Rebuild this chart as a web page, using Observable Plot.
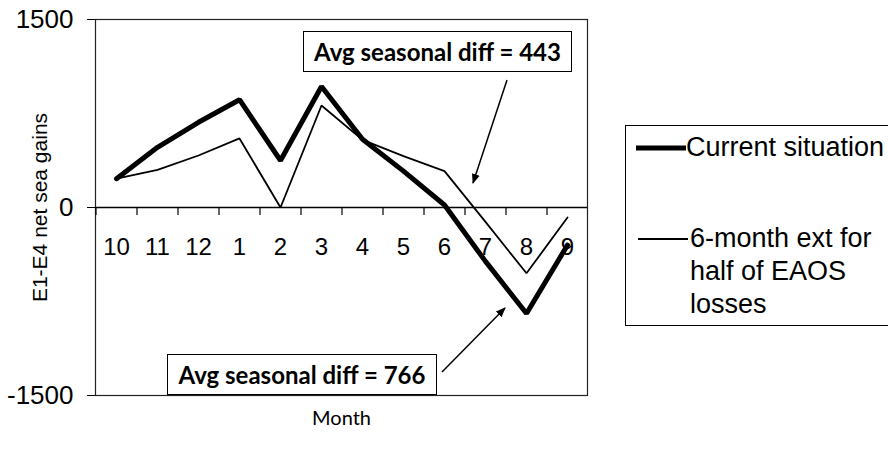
<!DOCTYPE html>
<html>
<head>
<meta charset="utf-8">
<script src="https://cdn.jsdelivr.net/npm/d3@7"></script>
<script src="https://cdn.jsdelivr.net/npm/@observablehq/plot@0.6"></script>
<style>
  html, body { margin: 0; padding: 0; background: #fff; overflow: hidden; }
  #wrap { position: relative; width: 888px; height: 452px; overflow: hidden; }
  .anno { position: absolute; box-sizing: border-box; border: 1.5px solid #000; background: #fff;
          font-family: Lato, "Open Sans", sans-serif; font-weight: 700; font-size: 24px;
          display: flex; align-items: center; justify-content: center; color: #000; white-space: nowrap; }
  #legend { position: absolute; left: 625px; top: 125px; width: 300px; height: 201px; box-sizing: border-box;
            border: 1.5px solid #000; background: #fff; font-family: "Liberation Sans", Arial, sans-serif;
            font-size: 27px; color: #000; }
  .item { position: absolute; left: 10px; display: flex; align-items: flex-start; }
  .item span { line-height: 33px; }
  #overlay { position: absolute; left: 0; top: 0; pointer-events: none; }
</style>
</head>
<body>
<div id="wrap"></div>
<script>
const months = ["10","11","12","1","2","3","4","5","6","7","8","9"];
const current = [230, 480, 680, 860, 375, 965, 545, 290, 20, -430, -846, -300];
const extension = [230, 300, 415, 551, 0, 814, 540, 410, 290, -115, -525, -80];
const yTicks = [-1500, 0, 1500];
const seriesNames = ["Current situation", "6-month ext for half of EAOS losses"];
const annotations = ["Avg seasonal diff = 443", "Avg seasonal diff = 766"];

const rows = months.map((m, i) => ({month: m, current: current[i], ext: extension[i]}));

const W = 888, H = 452, mL = 95, mR = 301, mT = 19, mB = 57;
const step = (W - mL - mR) / months.length;
const unitsPerPx = 3000 / (H - mT - mB);

const chart = Plot.plot({
  width: W, height: H,
  marginLeft: mL, marginRight: mR, marginTop: mT, marginBottom: mB,
  style: {fontFamily: "'Liberation Sans', Arial, sans-serif", fontSize: "24px", color: "#000", background: "#fff"},
  x: {type: "point", domain: months, padding: 0.5, axis: null},
  y: {domain: [-1500, 1500], label: null},
  marks: [
    Plot.frame({stroke: "#222", strokeWidth: 1.2}),
    Plot.axisY(yTicks, {tickSize: 8, tickPadding: 14, fontSize: 26, tickFormat: d => String(d), label: null, stroke: "#000"}),
    Plot.ruleY([0], {stroke: "#000", strokeWidth: 1.6}),
    Plot.ruleX(months, {x: d => d, y1: () => 0, y2: () => -8 * unitsPerPx, dx: -step / 2, stroke: "#000", strokeWidth: 1.2}),
    Plot.text(months, {x: d => d, y: () => 0, dy: 40, text: d => d, fontSize: 24}),
    Plot.line(rows, {x: "month", y: "ext", stroke: "#000", strokeWidth: 1.8, strokeLinejoin: "miter"}),
    Plot.line(rows, {x: "month", y: "current", stroke: "#000", strokeWidth: 5, strokeLinejoin: "miter"}),
    Plot.text(["E1-E4 net sea gains"], {text: d => d, frameAnchor: "left", textAnchor: "middle", rotate: -90, dx: -55, fontSize: 21}),
    Plot.text(["Month"], {text: d => d, frameAnchor: "bottom", dy: 29, fontSize: 20, fontFamily: "Lato, 'Open Sans', sans-serif"})
  ]
});

const wrap = document.getElementById("wrap");
wrap.appendChild(chart);

// annotation boxes
const boxes = [
  {text: annotations[0], left: 303, top: 31, width: 269, height: 41},
  {text: annotations[1], left: 167, top: 354, width: 270, height: 41}
];
for (const b of boxes) {
  const d = document.createElement("div");
  d.className = "anno";
  d.style.left = b.left + "px"; d.style.top = b.top + "px";
  d.style.width = b.width + "px"; d.style.height = b.height + "px";
  d.textContent = b.text;
  wrap.appendChild(d);
}

// arrows
const ns = "http://www.w3.org/2000/svg";
const ov = document.createElementNS(ns, "svg");
ov.setAttribute("id", "overlay");
ov.setAttribute("width", W); ov.setAttribute("height", H);
ov.innerHTML = `<defs><marker id="ah" viewBox="0 0 10 10" refX="9" refY="5" markerWidth="10" markerHeight="10" markerUnits="userSpaceOnUse" orient="auto"><path d="M0,1 L10,5 L0,9 z" fill="#000"/></marker></defs>
<line x1="507" y1="80" x2="473" y2="183" stroke="#000" stroke-width="1.5" marker-end="url(#ah)"/>
<line x1="442" y1="372" x2="505" y2="308" stroke="#000" stroke-width="1.5" marker-end="url(#ah)"/>`;
wrap.appendChild(ov);

// legend
const lg = document.createElement("div");
lg.id = "legend";
lg.innerHTML = `
  <div class="item" style="top:5px"><svg width="50" height="33"><line x1="0" x2="50" y1="17" y2="17" stroke="#000" stroke-width="5"/></svg><span>${seriesNames[0]}</span></div>
  <div class="item" style="top:96px"><svg width="54" height="33"><line x1="2" x2="52" y1="17" y2="17" stroke="#000" stroke-width="1.8"/></svg><span>6-month ext for<br>half of EAOS<br>losses</span></div>`;
wrap.appendChild(lg);
</script>
</body>
</html>
